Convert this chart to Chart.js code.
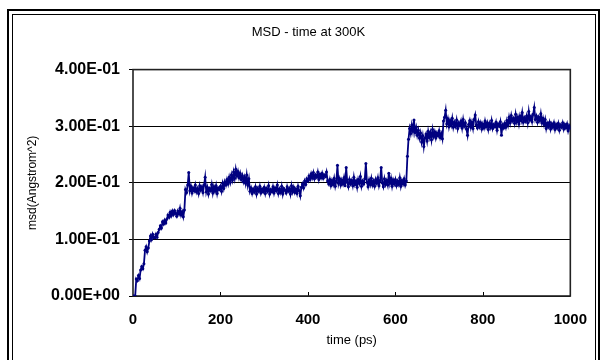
<!DOCTYPE html>
<html><head><meta charset="utf-8">
<script src="https://cdn.jsdelivr.net/npm/chart.js@4/dist/chart.umd.min.js"></script>
<style>html,body{margin:0;padding:0;background:#fff;} canvas{display:block;}</style>
</head><body><canvas id="c" width="602" height="360"></canvas>
<script>
// ---- data ----
const chartTitle = 'MSD - time at 300K';
const xAxisTitle = 'time (ps)';
const yAxisTitle = 'msd(Angstrom^2)';
const xTickLabels = ['0', '200', '400', '600', '800', '1000'];
const yTickLabels = ['0.00E+00', '1.00E-01', '2.00E-01', '3.00E-01', '4.00E-01'];
const timeStepPs = 2.5;
const msdValues = [
  0, 0, 0, 0.03, 0.027, 0.036, 0.031, 0.046, 0.052, 0.048, 0.057, 0.081, 0.087, 0.078, 0.085, 0.097, 0.106, 0.1, 0.109, 0.103,
  0.103, 0.109, 0.104, 0.112, 0.118, 0.124, 0.12, 0.131, 0.127, 0.134, 0.129, 0.136, 0.143, 0.139, 0.148, 0.142, 0.15, 0.144, 0.151, 0.146,
  0.141, 0.15, 0.145, 0.155, 0.143, 0.149, 0.14, 0.152, 0.188, 0.183, 0.196, 0.218, 0.186, 0.194, 0.182, 0.191, 0.186, 0.196, 0.184, 0.19,
  0.181, 0.195, 0.187, 0.193, 0.183, 0.196, 0.21, 0.184, 0.192, 0.18, 0.19, 0.186, 0.197, 0.182, 0.193, 0.185, 0.195, 0.181, 0.191, 0.188,
  0.194, 0.185, 0.199, 0.19, 0.202, 0.196, 0.206, 0.198, 0.21, 0.201, 0.214, 0.205, 0.219, 0.208, 0.224, 0.212, 0.22, 0.209, 0.217, 0.206,
  0.213, 0.202, 0.21, 0.199, 0.214, 0.196, 0.207, 0.185, 0.191, 0.181, 0.189, 0.184, 0.193, 0.18, 0.19, 0.185, 0.194, 0.182, 0.189, 0.184,
  0.192, 0.181, 0.19, 0.185, 0.195, 0.18, 0.188, 0.184, 0.193, 0.182, 0.191, 0.186, 0.196, 0.181, 0.189, 0.183, 0.194, 0.18, 0.19, 0.187,
  0.182, 0.193, 0.185, 0.19, 0.18, 0.195, 0.184, 0.192, 0.183, 0.189, 0.181, 0.194, 0.186, 0.177, 0.192, 0.198, 0.191, 0.203, 0.197, 0.207,
  0.203, 0.212, 0.206, 0.216, 0.209, 0.218, 0.207, 0.214, 0.21, 0.219, 0.206, 0.215, 0.209, 0.217, 0.208, 0.214, 0.211, 0.219, 0.203, 0.198,
  0.206, 0.195, 0.204, 0.197, 0.208, 0.194, 0.203, 0.231, 0.199, 0.207, 0.196, 0.205, 0.198, 0.209, 0.195, 0.227, 0.201, 0.193, 0.206, 0.198,
  0.204, 0.195, 0.21, 0.197, 0.203, 0.192, 0.206, 0.199, 0.211, 0.194, 0.203, 0.198, 0.207, 0.234, 0.201, 0.193, 0.205, 0.197, 0.208, 0.196,
  0.203, 0.194, 0.206, 0.199, 0.209, 0.195, 0.204, 0.227, 0.2, 0.193, 0.207, 0.197, 0.204, 0.196, 0.217, 0.199, 0.208, 0.194, 0.205, 0.198,
  0.206, 0.195, 0.203, 0.197, 0.209, 0.194, 0.204, 0.198, 0.207, 0.196, 0.203, 0.247, 0.277, 0.296, 0.287, 0.302, 0.291, 0.311, 0.289, 0.298,
  0.284, 0.293, 0.279, 0.288, 0.272, 0.283, 0.264, 0.279, 0.286, 0.274, 0.291, 0.28, 0.289, 0.276, 0.294, 0.282, 0.29, 0.279, 0.288, 0.283,
  0.292, 0.28, 0.287, 0.278, 0.309, 0.316, 0.328, 0.304, 0.313, 0.299, 0.31, 0.302, 0.314, 0.298, 0.307, 0.3, 0.311, 0.296, 0.306, 0.301,
  0.309, 0.297, 0.312, 0.3, 0.306, 0.295, 0.284, 0.303, 0.31, 0.298, 0.307, 0.296, 0.312, 0.32, 0.302, 0.297, 0.308, 0.299, 0.306, 0.295,
  0.304, 0.297, 0.309, 0.299, 0.306, 0.294, 0.305, 0.298, 0.31, 0.296, 0.303, 0.299, 0.307, 0.293, 0.304, 0.3, 0.308, 0.284, 0.302, 0.297,
  0.305, 0.298, 0.31, 0.302, 0.316, 0.306, 0.319, 0.309, 0.314, 0.305, 0.321, 0.308, 0.316, 0.304, 0.318, 0.31, 0.324, 0.307, 0.315, 0.309,
  0.318, 0.306, 0.326, 0.311, 0.317, 0.308, 0.321, 0.333, 0.312, 0.318, 0.307, 0.316, 0.31, 0.322, 0.306, 0.314, 0.303, 0.312, 0.296, 0.305,
  0.299, 0.307, 0.295, 0.304, 0.298, 0.306, 0.294, 0.303, 0.297, 0.305, 0.293, 0.302, 0.298, 0.306, 0.295, 0.303, 0.297, 0.304, 0.292, 0.301,
  0.296
];
const timePs = msdValues.map((_, i) => i * timeStepPs);

// ---- drawing ----
const FONT = '"Liberation Sans", Arial, sans-serif';
const navy = '#000080';

const framePlugin = {
  id: 'frame',
  beforeDraw(chart) {
    const ctx = chart.ctx;
    ctx.save();
    ctx.fillStyle = '#fff';
    ctx.fillRect(0, 0, chart.width, chart.height);
    ctx.strokeStyle = '#000';
    ctx.lineWidth = 2;
    ctx.strokeRect(8, 10, 591, 360);
    ctx.lineWidth = 1;
    ctx.strokeRect(12.5, 14.5, 583, 360);
    ctx.restore();
  },
  beforeDatasetsDraw(chart) {
    const {ctx, chartArea: a, scales: {x}} = chart;
    ctx.save();
    ctx.strokeStyle = '#000';
    ctx.lineWidth = 1;
    x.ticks.forEach((t, i) => {
      if (i === 0 || i === x.ticks.length - 1) return;
      const px = Math.round(x.getPixelForValue(t.value)) + 0.5;
      ctx.beginPath();
      ctx.moveTo(px, a.bottom);
      ctx.lineTo(px, a.bottom - 4);
      ctx.stroke();
    });
    ctx.lineWidth = 1.6;
    ctx.strokeStyle = '#222';
    ctx.strokeRect(a.left, a.top, a.right - a.left, a.bottom - a.top);
    ctx.restore();
  }
};

new Chart(document.getElementById('c'), {
  type: 'line',
  data: {
    datasets: [{
      data: timePs.map((t, i) => ({x: t, y: msdValues[i]})),
      borderColor: navy,
      backgroundColor: navy,
      borderWidth: 1.8,
      pointRadius: 1.5,
      pointBorderWidth: 0,
      pointBackgroundColor: navy,
      tension: 0,
      fill: false
    }]
  },
  options: {
    responsive: false,
    devicePixelRatio: 1,
    animation: false,
    layout: {padding: {left: 46, right: 31, top: 0, bottom: 0}},
    plugins: {
      legend: {display: false},
      tooltip: {enabled: false},
      title: {
        display: true,
        text: chartTitle,
        color: '#000',
        font: {family: FONT, size: 13, weight: 'normal', lineHeight: 1.2},
        padding: {top: 25, bottom: 29}
      }
    },
    scales: {
      x: {
        type: 'linear',
        min: 0, max: 1000,
        afterFit(s) { s.height = 64; },
        afterBuildTicks(s) { s.ticks = xTickLabels.map(v => ({value: Number(v)})); },
        ticks: {
          callback: (v, i) => xTickLabels[i],
          color: '#000',
          font: {family: FONT, size: 15, weight: 'bold'},
          padding: 15,
          maxRotation: 0,
          autoSkip: false
        },
        grid: {display: true, drawOnChartArea: false, drawTicks: false},
        border: {display: false},
        title: {
          display: true, text: xAxisTitle, color: '#000',
          font: {family: FONT, size: 13, weight: 'normal', lineHeight: 1.2},
          padding: {top: 0, bottom: 11.5}
        }
      },
      y: {
        type: 'linear',
        min: 0, max: 0.4,
        afterFit(s) { s.width = 87; },
        afterBuildTicks(s) { s.ticks = yTickLabels.map((_, i) => ({value: i * 0.1})); },
        ticks: {
          callback: (v, i) => yTickLabels[i],
          color: '#000',
          font: {family: FONT, size: 16, weight: 'bold'},
          padding: 9,
          autoSkip: false
        },
        grid: {color: '#000', lineWidth: 1, drawTicks: true, tickLength: 4, tickColor: '#000'},
        border: {display: false},
        title: {
          display: true, text: yAxisTitle, color: '#000',
          font: {family: FONT, size: 12, weight: 'normal', lineHeight: 1.2},
          padding: {top: -20.2, bottom: 0}
        }
      }
    }
  },
  plugins: [framePlugin]
});
</script></body></html>
